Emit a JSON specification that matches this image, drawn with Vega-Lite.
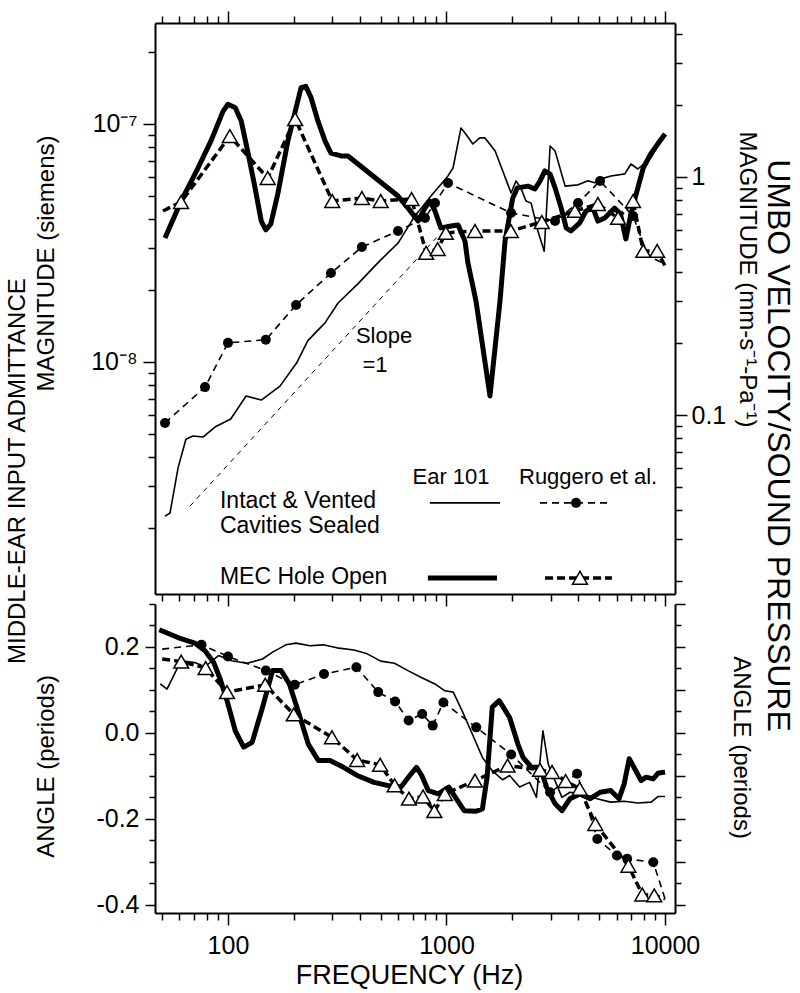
{
  "$schema": "https://vega.github.io/schema/vega-lite/v6.json",
  "padding": {"left": 5, "top": 10, "right": 5, "bottom": 5},
  "title": {"text": "MIDDLE-EAR INPUT ADMITTANCE", "orient": "left", "anchor": "middle", "fontSize": 24, "fontWeight": "normal", "font": "Liberation Sans", "color": "black", "offset": 4, "dx": 28},
  "spacing": 10,
  "bounds": "flush",
  "datasets": {
    "magEarIntact": [
      {"f": 51.5, "v": 2.25e-9}, {"f": 54.3, "v": 2.32e-9}, {"f": 59.1, "v": 3.59e-9}, {"f": 64.2, "v": 4.74e-9},
      {"f": 69.1, "v": 4.89e-9}, {"f": 76.8, "v": 4.84e-9}, {"f": 87.2, "v": 5.33e-9}, {"f": 103, "v": 5.76e-9},
      {"f": 121, "v": 7.2e-9}, {"f": 142, "v": 6.92e-9}, {"f": 173, "v": 7.92e-9}, {"f": 206, "v": 9.9e-9},
      {"f": 232, "v": 1.23e-8}, {"f": 278, "v": 1.46e-8}, {"f": 319, "v": 1.77e-8}, {"f": 393, "v": 2.13e-8},
      {"f": 485, "v": 2.61e-8}, {"f": 600, "v": 3.16e-8}, {"f": 716, "v": 4.1e-8}, {"f": 849, "v": 4.98e-8},
      {"f": 1016, "v": 6.05e-8}, {"f": 1071, "v": 6.53e-8}, {"f": 1165, "v": 9.62e-8}, {"f": 1215, "v": 9.17e-8},
      {"f": 1320, "v": 8.24e-8}, {"f": 1420, "v": 8.74e-8}, {"f": 1500, "v": 8.74e-8}, {"f": 1670, "v": 7.7e-8},
      {"f": 1975, "v": 5.13e-8}, {"f": 2080, "v": 5.76e-8}, {"f": 2190, "v": 5.39e-8}, {"f": 2310, "v": 4.75e-8},
      {"f": 2440, "v": 4.65e-8}, {"f": 2620, "v": 3.55e-8}, {"f": 2800, "v": 2.92e-8}, {"f": 2980, "v": 8.08e-8},
      {"f": 3140, "v": 7.7e-8}, {"f": 3490, "v": 5.48e-8}, {"f": 4000, "v": 5.55e-8}, {"f": 4440, "v": 5.77e-8},
      {"f": 4770, "v": 5.66e-8}, {"f": 5100, "v": 5.88e-8}, {"f": 5660, "v": 6.05e-8}, {"f": 6550, "v": 6.17e-8},
      {"f": 6980, "v": 6.79e-8}, {"f": 7510, "v": 6.47e-8}, {"f": 8600, "v": 7.19e-8}, {"f": 10000, "v": 9.08e-8}
    ],
    "magEarOpen": [
      {"f": 51.5, "v": 3.32e-8}, {"f": 61, "v": 4.74e-8}, {"f": 72.9, "v": 6.53e-8}, {"f": 83.6, "v": 8.49e-8},
      {"f": 94.9, "v": 1.13e-7}, {"f": 100, "v": 1.21e-7}, {"f": 108, "v": 1.17e-7}, {"f": 115, "v": 1.03e-7},
      {"f": 123, "v": 7.7e-8}, {"f": 133, "v": 5.39e-8}, {"f": 142, "v": 3.91e-8}, {"f": 149, "v": 3.59e-8},
      {"f": 157, "v": 3.8e-8}, {"f": 169, "v": 5.08e-8}, {"f": 188, "v": 8.49e-8}, {"f": 205, "v": 1.17e-7},
      {"f": 216, "v": 1.42e-7}, {"f": 227, "v": 1.44e-7}, {"f": 240, "v": 1.29e-7}, {"f": 258, "v": 1.03e-7},
      {"f": 278, "v": 8.49e-8}, {"f": 296, "v": 7.55e-8}, {"f": 329, "v": 7.34e-8}, {"f": 354, "v": 7.34e-8},
      {"f": 461, "v": 6.05e-8}, {"f": 600, "v": 4.98e-8}, {"f": 667, "v": 4.43e-8}, {"f": 741, "v": 3.91e-8},
      {"f": 797, "v": 4.43e-8}, {"f": 839, "v": 4.74e-8}, {"f": 886, "v": 4.31e-8}, {"f": 942, "v": 3.66e-8},
      {"f": 1049, "v": 3.73e-8}, {"f": 1130, "v": 3.76e-8}, {"f": 1215, "v": 3.22e-8}, {"f": 1253, "v": 2.61e-8},
      {"f": 1365, "v": 1.8e-8}, {"f": 1581, "v": 7.2e-9}, {"f": 1757, "v": 1.8e-8}, {"f": 1853, "v": 3.22e-8},
      {"f": 2010, "v": 4.89e-8}, {"f": 2110, "v": 5.39e-8}, {"f": 2360, "v": 5.48e-8}, {"f": 2540, "v": 5.33e-8},
      {"f": 2680, "v": 5.77e-8}, {"f": 2820, "v": 6.35e-8}, {"f": 2980, "v": 6.16e-8}, {"f": 3140, "v": 5.39e-8},
      {"f": 3350, "v": 4.43e-8}, {"f": 3530, "v": 3.66e-8}, {"f": 3710, "v": 3.55e-8}, {"f": 4070, "v": 3.84e-8},
      {"f": 4350, "v": 4.31e-8}, {"f": 4680, "v": 4.43e-8}, {"f": 4930, "v": 3.91e-8}, {"f": 5300, "v": 4.03e-8},
      {"f": 5870, "v": 4.43e-8}, {"f": 6250, "v": 4.19e-8}, {"f": 6620, "v": 3.29e-8}, {"f": 6980, "v": 4.19e-8},
      {"f": 7510, "v": 5.39e-8}, {"f": 7950, "v": 6.53e-8}, {"f": 8600, "v": 7.48e-8}, {"f": 9260, "v": 8.24e-8},
      {"f": 10000, "v": 9.08e-8}
    ],
    "magRugIntact": [
      {"f": 51.5, "v": 0.0926}, {"f": 78.5, "v": 0.131}, {"f": 100, "v": 0.201}, {"f": 149, "v": 0.207},
      {"f": 205, "v": 0.29}, {"f": 296, "v": 0.395}, {"f": 410, "v": 0.508}, {"f": 600, "v": 0.593},
      {"f": 797, "v": 0.673}, {"f": 886, "v": 0.778}, {"f": 1016, "v": 0.944}, {"f": 1974, "v": 0.706},
      {"f": 3140, "v": 0.653}, {"f": 4000, "v": 0.778}, {"f": 5045, "v": 0.962}, {"f": 7140, "v": 0.686},
      {"f": 8360, "v": 0.466}, {"f": 10000, "v": 0.431}
    ],
    "magRugOpen": [
      {"f": 50.4, "v": 0.72}, {"f": 61, "v": 0.785}, {"f": 102, "v": 1.486}, {"f": 152, "v": 0.99},
      {"f": 203, "v": 1.75}, {"f": 300, "v": 0.793}, {"f": 410, "v": 0.816}, {"f": 500, "v": 0.793},
      {"f": 692, "v": 0.808}, {"f": 807, "v": 0.48}, {"f": 911, "v": 0.498}, {"f": 993, "v": 0.582},
      {"f": 1350, "v": 0.593}, {"f": 1970, "v": 0.593}, {"f": 2730, "v": 0.647}, {"f": 3870, "v": 0.72},
      {"f": 4930, "v": 0.77}, {"f": 6100, "v": 0.673}, {"f": 7140, "v": 0.793}, {"f": 7950, "v": 0.489},
      {"f": 9200, "v": 0.489}, {"f": 10000, "v": 0.423}
    ],
    "slope": [{"f": 67, "v": 2.48e-9}, {"f": 900, "v": 3.33e-8}],
    "legEarIntact": [{"f": 839, "v": 2.56e-9}, {"f": 1758, "v": 2.56e-9}],
    "legEarOpen": [{"f": 822, "v": 1.236e-9}, {"f": 1702, "v": 1.236e-9}],
    "legRugIntact": [{"f": 2679, "v": 2.56e-9}, {"f": 5483, "v": 2.56e-9}],
    "legRugIntactMark": [{"f": 3917, "v": 2.56e-9}],
    "legRugOpen": [{"f": 2825, "v": 1.236e-9}, {"f": 5716, "v": 1.236e-9}],
    "legRugOpenMark": [{"f": 4081, "v": 1.24e-9}],
    "notesCenter": [
      {"f": 518, "v": 1.29e-8, "t": "Slope"},
      {"f": 471, "v": 9.7e-9, "t": "=1"},
      {"f": 1049, "v": 3.29e-9, "t": "Ear 101"},
      {"f": 4446, "v": 3.29e-9, "t": "Ruggero et al."}
    ],
    "notesLeft": [
      {"f": 91.9, "v": 2.61e-9, "t": "Intact & Vented"},
      {"f": 91.9, "v": 2.05e-9, "t": "Cavities Sealed"},
      {"f": 91.9, "v": 1.25e-9, "t": "MEC Hole Open"}
    ],
    "angEarIntact": [
      {"f": 49, "v": 0.114}, {"f": 52.6, "v": 0.102}, {"f": 61, "v": 0.168}, {"f": 70.5, "v": 0.164},
      {"f": 78.5, "v": 0.154}, {"f": 90.5, "v": 0.18}, {"f": 104, "v": 0.168}, {"f": 122, "v": 0.162},
      {"f": 144, "v": 0.172}, {"f": 160, "v": 0.188}, {"f": 184, "v": 0.205}, {"f": 205, "v": 0.209},
      {"f": 237, "v": 0.203}, {"f": 273, "v": 0.205}, {"f": 315, "v": 0.198}, {"f": 377, "v": 0.193},
      {"f": 434, "v": 0.184}, {"f": 500, "v": 0.167}, {"f": 578, "v": 0.162}, {"f": 666, "v": 0.145},
      {"f": 767, "v": 0.129}, {"f": 885, "v": 0.114}, {"f": 983, "v": 0.098}, {"f": 1074, "v": 0.095},
      {"f": 1178, "v": 0.052}, {"f": 1311, "v": -0.002}, {"f": 1460, "v": -0.057}, {"f": 1620, "v": -0.088},
      {"f": 1808, "v": -0.109}, {"f": 1945, "v": -0.099}, {"f": 2161, "v": -0.126}, {"f": 2400, "v": -0.115},
      {"f": 2580, "v": -0.15}, {"f": 2763, "v": 0.005}, {"f": 2920, "v": -0.072}, {"f": 3090, "v": -0.103},
      {"f": 3375, "v": -0.15}, {"f": 3676, "v": -0.138}, {"f": 4244, "v": -0.142}, {"f": 4889, "v": -0.153},
      {"f": 5637, "v": -0.161}, {"f": 6501, "v": -0.159}, {"f": 7490, "v": -0.163}, {"f": 8640, "v": -0.161},
      {"f": 9280, "v": -0.148}, {"f": 10000, "v": -0.148}
    ],
    "angEarOpen": [
      {"f": 48.5, "v": 0.24}, {"f": 59, "v": 0.222}, {"f": 70.5, "v": 0.209}, {"f": 78.5, "v": 0.191},
      {"f": 86, "v": 0.164}, {"f": 92, "v": 0.126}, {"f": 99, "v": 0.075}, {"f": 108, "v": 0.005},
      {"f": 118, "v": -0.033}, {"f": 129, "v": -0.022}, {"f": 144, "v": 0.06}, {"f": 160, "v": 0.145},
      {"f": 175, "v": 0.145}, {"f": 191, "v": 0.114}, {"f": 209, "v": 0.052}, {"f": 233, "v": -0.026},
      {"f": 259, "v": -0.064}, {"f": 293, "v": -0.064}, {"f": 338, "v": -0.08}, {"f": 390, "v": -0.099},
      {"f": 466, "v": -0.115}, {"f": 536, "v": -0.122}, {"f": 619, "v": -0.126}, {"f": 679, "v": -0.099},
      {"f": 729, "v": -0.08}, {"f": 770, "v": -0.099}, {"f": 825, "v": -0.134}, {"f": 918, "v": -0.142},
      {"f": 1025, "v": -0.126}, {"f": 1121, "v": -0.157}, {"f": 1205, "v": -0.181}, {"f": 1370, "v": -0.182},
      {"f": 1460, "v": -0.177}, {"f": 1534, "v": -0.103}, {"f": 1620, "v": 0.06}, {"f": 1742, "v": 0.075},
      {"f": 1945, "v": 0.036}, {"f": 2122, "v": -0.026}, {"f": 2240, "v": -0.057}, {"f": 2450, "v": -0.08},
      {"f": 2680, "v": -0.08}, {"f": 2870, "v": -0.126}, {"f": 3140, "v": -0.165}, {"f": 3380, "v": -0.181},
      {"f": 3676, "v": -0.153}, {"f": 4080, "v": -0.142}, {"f": 4550, "v": -0.153}, {"f": 5050, "v": -0.138},
      {"f": 5640, "v": -0.134}, {"f": 6160, "v": -0.153}, {"f": 6500, "v": -0.119}, {"f": 6860, "v": -0.06},
      {"f": 7350, "v": -0.088}, {"f": 7770, "v": -0.111}, {"f": 8200, "v": -0.103}, {"f": 8830, "v": -0.107},
      {"f": 9280, "v": -0.094}, {"f": 10000, "v": -0.091}
    ],
    "angRugIntact": [
      {"f": 50, "v": 0.195}, {"f": 75.7, "v": 0.205}, {"f": 100, "v": 0.178}, {"f": 149, "v": 0.145},
      {"f": 202, "v": 0.112}, {"f": 275, "v": 0.137}, {"f": 387, "v": 0.153}, {"f": 487, "v": 0.095},
      {"f": 582, "v": 0.073}, {"f": 671, "v": 0.029}, {"f": 774, "v": 0.044}, {"f": 865, "v": 0.017},
      {"f": 968, "v": 0.071}, {"f": 1368, "v": 0.013}, {"f": 1977, "v": -0.05}, {"f": 2979, "v": -0.138},
      {"f": 3960, "v": -0.095}, {"f": 4900, "v": -0.247}, {"f": 6025, "v": -0.285}, {"f": 6710, "v": -0.293},
      {"f": 8840, "v": -0.301}, {"f": 10000, "v": -0.386}
    ],
    "angRugOpen": [
      {"f": 50, "v": 0.172}, {"f": 61.1, "v": 0.166}, {"f": 79, "v": 0.151}, {"f": 99, "v": 0.095},
      {"f": 148, "v": 0.112}, {"f": 200, "v": 0.043}, {"f": 299, "v": -0.01}, {"f": 390, "v": -0.063},
      {"f": 497, "v": -0.074}, {"f": 579, "v": -0.122}, {"f": 673, "v": -0.153}, {"f": 781, "v": -0.148},
      {"f": 880, "v": -0.182}, {"f": 983, "v": -0.142}, {"f": 1350, "v": -0.111}, {"f": 1904, "v": -0.076},
      {"f": 2680, "v": -0.086}, {"f": 3040, "v": -0.091}, {"f": 3510, "v": -0.112}, {"f": 4070, "v": -0.13},
      {"f": 4800, "v": -0.212}, {"f": 6800, "v": -0.309}, {"f": 7870, "v": -0.376}, {"f": 8930, "v": -0.378},
      {"f": 10000, "v": -0.386}
    ]
  },
  "vconcat": [
    {
      "width": 520,
      "height": 571,
      "title": {"text": "UMBO VELOCITY/SOUND PRESSURE", "orient": "right", "anchor": "middle", "frame": "group", "offset": 3, "dx": 137, "fontSize": 32, "fontWeight": "normal", "font": "Liberation Sans", "color": "black"},
      "layer": [
        {
          "encoding": {
            "x": {"field": "f", "type": "quantitative", "scale": {"type": "log", "domain": [46.35, 11110], "nice": false},
              "axis": {"orient": "bottom", "title": null, "labels": false, "values": [50,60,70,80,90,100,200,300,400,500,600,700,800,900,1000,2000,3000,4000,5000,6000,7000,8000,9000,10000],
                "tickSize": {"condition": {"test": "indexof([100,1000,10000], datum.value) >= 0", "value": 12}, "value": 7}}},
            "y": {"field": "v", "type": "quantitative", "scale": {"type": "log", "domain": [1.06e-9, 2.656e-7], "nice": false},
              "axis": {"orient": "left", "title": "MAGNITUDE (siemens)", "titleX": -109, "titleY": 240, "titleAngle": 270, "titleAlign": "center", "titleBaseline": "middle",
                "values": [2e-9,3e-9,4e-9,5e-9,6e-9,7e-9,8e-9,9e-9,1e-8,2e-8,3e-8,4e-8,5e-8,6e-8,7e-8,8e-8,9e-8,1e-7,2e-7],
                "labelExpr": "abs(log(datum.value)/LN10 - round(log(datum.value)/LN10)) < 0.001 ? (round(log(datum.value)/LN10) == -7 ? '10⁻⁷' : '10⁻⁸') : ''",
                "labelPadding": 6, "labelFlush": false, "labelOverlap": false,
                "tickSize": {"condition": {"test": "abs(log(datum.value)/LN10 - round(log(datum.value)/LN10)) < 0.001", "value": 12}, "value": 7}}}
          },
          "layer": [
            {"data": {"name": "magEarIntact"}, "mark": {"type": "line", "color": "black", "strokeWidth": 1.6, "strokeJoin": "round"}, "encoding": {}},
            {"data": {"name": "magEarOpen"}, "mark": {"type": "line", "color": "black", "strokeWidth": 5, "strokeJoin": "round"}, "encoding": {}},
            {"data": {"name": "slope"}, "mark": {"type": "line", "color": "black", "strokeWidth": 1, "strokeDash": [5, 5]}, "encoding": {}},
            {"data": {"name": "legEarIntact"}, "mark": {"type": "line", "color": "black", "strokeWidth": 1.6}, "encoding": {}},
            {"data": {"name": "legEarOpen"}, "mark": {"type": "line", "color": "black", "strokeWidth": 5}, "encoding": {}},
            {"data": {"name": "legRugIntact"}, "mark": {"type": "line", "color": "black", "strokeWidth": 1.6, "strokeDash": [7, 5]}, "encoding": {}},
            {"data": {"name": "legRugIntactMark"}, "mark": {"type": "point", "shape": "circle", "filled": true, "color": "black", "size": 100, "opacity": 1}, "encoding": {}},
            {"data": {"name": "legRugOpen"}, "mark": {"type": "line", "color": "black", "strokeWidth": 3.5, "strokeDash": [8, 4]}, "encoding": {}},
            {"data": {"name": "legRugOpenMark"}, "mark": {"type": "point", "shape": "triangle-up", "filled": true, "fill": "white", "stroke": "black", "strokeWidth": 1.5, "size": 220, "opacity": 1}, "encoding": {}},
            {"data": {"name": "notesCenter"}, "mark": {"type": "text", "align": "center", "baseline": "middle", "fontSize": 22, "font": "Liberation Sans", "color": "black"}, "encoding": {"text": {"field": "t"}}},
            {"data": {"name": "notesLeft"}, "mark": {"type": "text", "align": "left", "baseline": "middle", "fontSize": 23, "font": "Liberation Sans", "color": "black"}, "encoding": {"text": {"field": "t"}}}
          ]
        },
        {
          "encoding": {
            "x": {"field": "f", "type": "quantitative", "scale": {"type": "log", "domain": [46.35, 11110], "nice": false},
              "axis": {"orient": "top", "title": null, "labels": false, "values": [50,60,70,80,90,100,200,300,400,500,600,700,800,900,1000,2000,3000,4000,5000,6000,7000,8000,9000,10000],
                "tickSize": {"condition": {"test": "indexof([100,1000,10000], datum.value) >= 0", "value": 12}, "value": 7}}},
            "y": {"field": "v", "type": "quantitative", "scale": {"type": "log", "domain": [0.0177, 4.436], "nice": false},
              "axis": {"orient": "right", "title": "MAGNITUDE (mm-s⁻¹-Pa⁻¹)", "titleX": 71, "titleY": 256, "titleAngle": 90, "titleAlign": "center", "titleBaseline": "middle",
                "values": [0.02,0.03,0.04,0.05,0.06,0.07,0.08,0.09,0.1,0.2,0.3,0.4,0.5,0.6,0.7,0.8,0.9,1,2,3,4],
                "labelExpr": "abs(datum.value - 1) < 1e-9 ? '1' : (abs(datum.value - 0.1) < 1e-9 ? '0.1' : '')",
                "labelPadding": 4, "labelFlush": false, "labelOverlap": false,
                "tickSize": {"condition": {"test": "abs(log(datum.value)/LN10 - round(log(datum.value)/LN10)) < 0.001", "value": 12}, "value": 7}}}
          },
          "layer": [
            {"data": {"name": "magRugIntact"}, "mark": {"type": "line", "color": "black", "strokeWidth": 1.6, "strokeDash": [7, 5]}, "encoding": {}},
            {"data": {"name": "magRugIntact"}, "transform": [{"filter": "datum.f < 8000"}], "mark": {"type": "point", "shape": "circle", "filled": true, "color": "black", "size": 100, "opacity": 1}, "encoding": {}},
            {"data": {"name": "magRugOpen"}, "mark": {"type": "line", "color": "black", "strokeWidth": 3.5, "strokeDash": [8, 4]}, "encoding": {}},
            {"data": {"name": "magRugOpen"}, "transform": [{"filter": "datum.f > 55 && datum.f < 9900"}], "mark": {"type": "point", "shape": "triangle-up", "filled": true, "fill": "white", "stroke": "black", "strokeWidth": 1.5, "size": 220, "opacity": 1}, "encoding": {}}
          ]
        }
      ],
      "resolve": {"scale": {"y": "independent"}, "axis": {"x": "independent", "y": "independent"}}
    },
    {
      "width": 520,
      "height": 309,
      "layer": [
        {
          "encoding": {
            "x": {"field": "f", "type": "quantitative", "scale": {"type": "log", "domain": [46.35, 11110], "nice": false},
              "axis": {"orient": "bottom", "title": "FREQUENCY (Hz)", "titleFontSize": 27, "titleX": 254, "titleY": 62, "titleAlign": "center", "titleBaseline": "middle",
                "values": [50,60,70,80,90,100,200,300,400,500,600,700,800,900,1000,2000,3000,4000,5000,6000,7000,8000,9000,10000],
                "labelExpr": "indexof([100,1000,10000], datum.value) >= 0 ? '' + datum.value : ''",
                "labelPadding": 8, "labelFlush": false, "labelOverlap": false,
                "tickSize": {"condition": {"test": "indexof([100,1000,10000], datum.value) >= 0", "value": 12}, "value": 7}}},
            "y": {"field": "v", "type": "quantitative", "scale": {"domain": [-0.419, 0.3], "nice": false, "zero": false},
              "axis": {"orient": "left", "title": "ANGLE (periods)", "titleX": -109, "titleY": 162, "titleAngle": 270, "titleAlign": "center", "titleBaseline": "middle",
                "values": [-0.4,-0.35,-0.3,-0.25,-0.2,-0.15,-0.1,-0.05,0,0.05,0.1,0.15,0.2,0.25,0.3],
                "labelExpr": "abs(datum.value*5 - round(datum.value*5)) < 0.001 ? (datum.value < -0.001 ? '-' : '') + format(abs(datum.value), '.1f') : ''",
                "labelPadding": 6, "labelFlush": false, "labelOverlap": false,
                "tickSize": {"condition": {"test": "abs(datum.value*5 - round(datum.value*5)) < 0.001", "value": 10}, "value": 6}}}
          },
          "layer": [
            {"data": {"name": "angEarIntact"}, "mark": {"type": "line", "color": "black", "strokeWidth": 1.6, "strokeJoin": "round"}, "encoding": {}},
            {"data": {"name": "angEarOpen"}, "mark": {"type": "line", "color": "black", "strokeWidth": 5, "strokeJoin": "round"}, "encoding": {}}
          ]
        },
        {
          "encoding": {
            "x": {"field": "f", "type": "quantitative", "scale": {"type": "log", "domain": [46.35, 11110], "nice": false},
              "axis": {"orient": "bottom", "title": "FREQUENCY (Hz)", "titleFontSize": 27, "titleX": 254, "titleY": 62, "titleAlign": "center", "titleBaseline": "middle",
                "values": [50,60,70,80,90,100,200,300,400,500,600,700,800,900,1000,2000,3000,4000,5000,6000,7000,8000,9000,10000],
                "labelExpr": "indexof([100,1000,10000], datum.value) >= 0 ? '' + datum.value : ''",
                "labelPadding": 8, "labelFlush": false, "labelOverlap": false,
                "tickSize": {"condition": {"test": "indexof([100,1000,10000], datum.value) >= 0", "value": 12}, "value": 7}}},
            "y": {"field": "v", "type": "quantitative", "scale": {"domain": [-0.419, 0.3], "nice": false, "zero": false},
              "axis": {"orient": "right", "title": "ANGLE (periods)", "titleX": 65, "titleY": 143, "titleAngle": 90, "titleAlign": "center", "titleBaseline": "middle",
                "values": [-0.4,-0.35,-0.3,-0.25,-0.2,-0.15,-0.1,-0.05,0,0.05,0.1,0.15,0.2,0.25,0.3],
                "labels": false,
                "tickSize": {"condition": {"test": "abs(datum.value*10 - round(datum.value*10)) < 0.001", "value": 10}, "value": 6}}}
          },
          "layer": [
            {"data": {"name": "angRugIntact"}, "mark": {"type": "line", "color": "black", "strokeWidth": 1.6, "strokeDash": [7, 5]}, "encoding": {}},
            {"data": {"name": "angRugIntact"}, "transform": [{"filter": "datum.f > 55 && datum.f < 9900"}], "mark": {"type": "point", "shape": "circle", "filled": true, "color": "black", "size": 100, "opacity": 1}, "encoding": {}},
            {"data": {"name": "angRugOpen"}, "mark": {"type": "line", "color": "black", "strokeWidth": 3.5, "strokeDash": [8, 4]}, "encoding": {}},
            {"data": {"name": "angRugOpen"}, "transform": [{"filter": "datum.f > 55 && datum.f < 9900"}], "mark": {"type": "point", "shape": "triangle-up", "filled": true, "fill": "white", "stroke": "black", "strokeWidth": 1.5, "size": 220, "opacity": 1}, "encoding": {}}
          ]
        }
      ],
      "resolve": {"axis": {"y": "independent"}}
    }
  ],
  "config": {
    "font": "Liberation Sans",
    "view": {"stroke": null},
    "axis": {"domainColor": "black", "domainWidth": 2, "tickColor": "black", "tickWidth": 1.5, "labelColor": "black", "titleColor": "black",
      "labelFontSize": 25, "titleFontSize": 24, "titleFontWeight": "normal", "grid": false, "labelFont": "Liberation Sans", "titleFont": "Liberation Sans"}
  }
}
